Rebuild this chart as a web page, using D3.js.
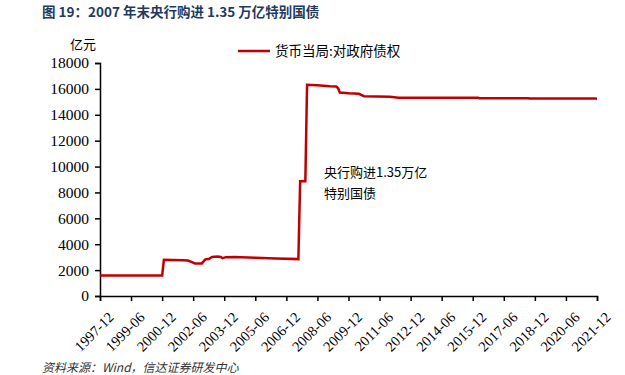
<!DOCTYPE html>
<html>
<head>
<meta charset="utf-8">
<script src="https://cdn.jsdelivr.net/npm/d3@7"></script>
<style>
  body { margin: 0; background: #fff; }
  svg { display: block; }
</style>
</head>
<body>
<script>
// series: central bank claims on government (亿元), breakpoints
var dates = ["1997-12","2000-12","2001-01","2001-06","2001-12","2002-03","2002-05","2002-07","2002-11",
  "2003-01","2003-03","2003-05","2003-08","2003-10","2003-11","2004-01","2004-06","2005-06","2006-06",
  "2007-07","2007-08","2007-11","2007-12","2008-06","2009-01","2009-05","2009-06","2009-07","2009-12",
  "2010-06","2010-09","2011-12","2012-05","2016-03","2016-04","2018-08","2018-09","2021-11","2021-12"];
var values = [1583,1583,2800,2790,2760,2740,2640,2520,2520,
  2830,2860,3020,3050,3020,2920,3000,3010,2960,2900,
  2850,8863,8863,16318,16280,16200,16180,16050,15720,15662,
  15620,15440,15400,15314,15313,15274,15274,15250,15250,15241];
var xTicks = ["1997-12","1999-06","2000-12","2002-06","2003-12","2005-06","2006-12","2008-06",
  "2009-12","2011-06","2012-12","2014-06","2015-12","2017-06","2018-12","2020-06","2021-12"];
var yTicks = [0,2000,4000,6000,8000,10000,12000,14000,16000,18000];

var W = 625, H = 375;
var margin = {top: 63, right: 28, bottom: 79, left: 100};
var width = W - margin.left - margin.right,
    height = H - margin.top - margin.bottom;

var parse = d3.timeParse("%Y-%m");
var data = dates.map(function(d, i) { return {date: parse(d), value: values[i]}; });

var svg = d3.select("body").append("svg")
    .attr("width", W)
    .attr("height", H);

svg.append("text")
    .attr("x", 42).attr("y", 17)
    .attr("fill", "#1f3a60")
    .style("font-family", "'Noto Sans CJK SC', sans-serif")
    .style("font-weight", "bold")
    .style("font-size", "13.5px")
    .text("图  19：2007 年末央行购进 1.35 万亿特别国债");

var g = svg.append("g")
    .attr("transform", "translate(" + margin.left + "," + margin.top + ")");

var x = d3.scaleTime()
    .domain([parse("1997-12"), parse("2021-12")])
    .range([0, width]);
var y = d3.scaleLinear()
    .domain([0, 18000])
    .range([height, 0]);

var yAxis = g.append("g")
    .call(d3.axisLeft(y).tickValues(yTicks).tickSize(5).tickPadding(6).tickFormat(d3.format("d")));
yAxis.selectAll("text")
    .style("font-family", "'Liberation Serif'")
    .style("font-size", "15.5px")
    .attr("fill", "#000");

var xAxis = g.append("g")
    .attr("transform", "translate(0," + height + ")")
    .call(d3.axisBottom(x).tickValues(xTicks.map(parse)).tickSize(5).tickFormat(d3.timeFormat("%Y-%m")));
xAxis.selectAll("text")
    .style("font-family", "'Liberation Serif'")
    .style("font-size", "14.5px")
    .attr("fill", "#000")
    .attr("text-anchor", "end")
    .attr("dy", "0.35em")
    .attr("transform", "translate(5,13) rotate(-45)");

g.selectAll(".domain, .tick line").attr("stroke", "#000").attr("stroke-width", 1.5);

g.append("path")
    .datum(data)
    .attr("fill", "none")
    .attr("stroke", "#c00000")
    .attr("stroke-width", 2.5)
    .attr("d", d3.line().x(function(d) { return x(d.date); }).y(function(d) { return y(d.value); }));

svg.append("text")
    .attr("x", 70).attr("y", 49)
    .style("font-family", "'Noto Sans CJK SC', sans-serif")
    .style("font-size", "13px")
    .text("亿元");

// legend
svg.append("line")
    .attr("x1", 238).attr("x2", 270).attr("y1", 51).attr("y2", 51)
    .attr("stroke", "#c00000").attr("stroke-width", 2.5);
svg.append("text")
    .attr("x", 275).attr("y", 56)
    .style("font-family", "'Noto Sans CJK SC', sans-serif")
    .style("font-size", "13.5px")
    .text("货币当局:对政府债权");

// annotation
var note = svg.append("text")
    .style("font-family", "'Noto Sans CJK SC', sans-serif")
    .style("font-size", "13px");
note.append("tspan").attr("x", 324).attr("y", 177).text("央行购进1.35万亿");
note.append("tspan").attr("x", 324).attr("y", 198).text("特别国债");

svg.append("text")
    .attr("x", 42).attr("y", 372)
    .style("font-family", "'Noto Sans CJK SC', sans-serif")
    .style("font-style", "italic")
    .style("font-size", "12px")
    .attr("fill", "#333")
    .text("资料来源：Wind，信达证券研发中心");
</script>
</body>
</html>
